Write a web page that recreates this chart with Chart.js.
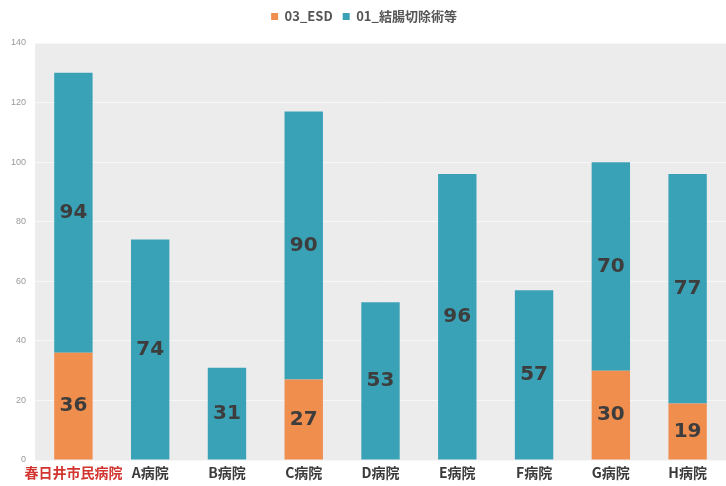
<!DOCTYPE html>
<html>
<head>
<meta charset="utf-8">
<script src="https://cdn.jsdelivr.net/npm/chart.js@4"></script>
<style>
  html, body { margin: 0; padding: 0; background: #fff; }
  #wrap { width: 726px; height: 486px; }
</style>
</head>
<body>
<div id="wrap"><canvas id="chart"></canvas></div>
<script>
const categories = ['春日井市民病院', 'A病院', 'B病院', 'C病院', 'D病院', 'E病院', 'F病院', 'G病院', 'H病院'];
const esdValues = [36, null, null, 27, null, null, null, 30, 19];
const colectomyValues = [94, 74, 31, 90, 53, 96, 57, 70, 77];
const seriesNames = ['03_ESD', '01_結腸切除術等'];
const yTicks = [0, 20, 40, 60, 80, 100, 120, 140];

// grey plot background
const plotBg = {
    id: 'plotBg',
    beforeDraw(chart) {
        const { ctx, chartArea: a } = chart;
        ctx.save();
        ctx.fillStyle = '#ececec';
        ctx.fillRect(a.left, a.top, a.right - a.left, a.bottom - a.top);
        ctx.restore();
    }
};

// extra space under the legend
const legendGap = {
    id: 'legendGap',
    beforeInit(chart) {
        const fit = chart.legend.fit;
        chart.legend.fit = function () {
            fit.call(this);
            this.height += 10;
        };
    }
};

// value labels in the middle of each segment
const barLabels = {
    id: 'barLabels',
    afterDatasetsDraw(chart) {
        const { ctx } = chart;
        ctx.save();
        ctx.font = 'bold 20px "DejaVu Sans", sans-serif';
        ctx.fillStyle = '#3d3d3d';
        ctx.textAlign = 'center';
        ctx.textBaseline = 'middle';
        chart.data.datasets.forEach((ds, i) => {
            chart.getDatasetMeta(i).data.forEach((bar, j) => {
                const v = ds.data[j];
                if (v == null) return;
                ctx.fillText(String(v), bar.x, (bar.y + bar.base) / 2);
            });
        });
        ctx.restore();
    }
};

new Chart(document.getElementById('chart'), {
    type: 'bar',
    data: {
        labels: categories,
        datasets: [
            { label: seriesNames[0], data: esdValues, backgroundColor: '#f08e4e' },
            { label: seriesNames[1], data: colectomyValues, backgroundColor: '#3aa2b7' }
        ]
    },
    options: {
        responsive: true,
        maintainAspectRatio: false,
        animation: false,
        layout: { padding: { top: 0, right: 0, left: 2, bottom: 0 } },
        datasets: { bar: { barPercentage: 0.5, categoryPercentage: 1 } },
        plugins: {
            legend: {
                position: 'top',
                labels: {
                    boxWidth: 7, boxHeight: 7, color: '#555',
                    font: { size: 13, weight: 'bold', family: '"Noto Sans CJK JP", sans-serif' },
                    padding: 10
                }
            },
            tooltip: { enabled: false }
        },
        scales: {
            x: {
                stacked: true,
                grid: { display: false, drawTicks: false },
                border: { display: false },
                ticks: {
                    maxRotation: 0, autoSkip: false, padding: 6,
                    color: ctx => ctx.index === 0 ? '#d2342f' : '#3a3a3a',
                    font: { size: 14, weight: 'bold', lineHeight: 1, family: '"Noto Sans CJK JP", sans-serif' }
                }
            },
            y: {
                stacked: true,
                min: 0, max: 140,
                afterBuildTicks(axis) { axis.ticks = yTicks.map(v => ({ value: v })); },
                grid: { color: '#f7f7f7', lineWidth: 1, drawTicks: false },
                border: { display: false },
                ticks: { color: '#999', font: { size: 9 }, padding: 9 }
            }
        }
    },
    plugins: [plotBg, legendGap, barLabels]
});
</script>
</body>
</html>
